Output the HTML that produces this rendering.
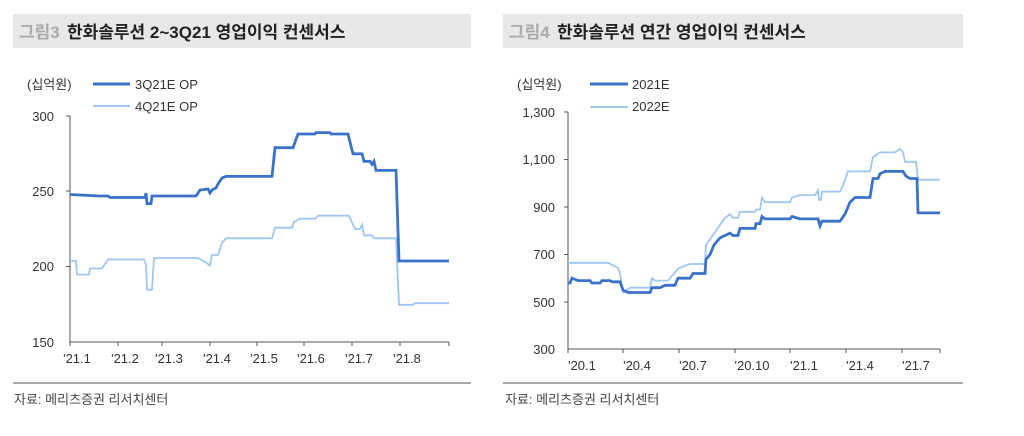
<!DOCTYPE html>
<html><head><meta charset="utf-8"><style>
body{margin:0;width:1024px;height:431px;background:#fff;overflow:hidden}
svg{font-family:"Liberation Sans","Noto Sans CJK KR",sans-serif}
</style></head><body>
<svg width="1024" height="431" viewBox="0 0 1024 431">
<rect x="13" y="14" width="458" height="34" fill="#e8e8e8"/>
<rect x="503" y="14" width="460" height="34" fill="#e8e8e8"/>
<text x="19" y="38" font-size="17" fill="#aaa" font-weight="bold">그림3</text>
<text x="67" y="38" font-size="17" fill="#222" font-weight="bold">한화솔루션 2~3Q21 영업이익 컨센서스</text>
<text x="509" y="38" font-size="17" fill="#aaa" font-weight="bold">그림4</text>
<text x="557" y="38" font-size="17" fill="#222" font-weight="bold">한화솔루션 연간 영업이익 컨센서스</text>

<g font-size="13" fill="#333">
<text x="27" y="89">(십억원)</text>
<text x="135" y="89">3Q21E OP</text>
<text x="135" y="111">4Q21E OP</text>
<text x="517" y="89">(십억원)</text>
<text x="632" y="89">2021E</text>
<text x="632" y="111">2022E</text>
</g>
<line x1="93" y1="84" x2="130" y2="84" stroke="#3a72c8" stroke-width="3"/>
<line x1="93" y1="106" x2="130" y2="106" stroke="#9ec7f2" stroke-width="2"/>
<line x1="590" y1="84" x2="628" y2="84" stroke="#3a72c8" stroke-width="3"/>
<line x1="590" y1="107" x2="628" y2="107" stroke="#9ec7f2" stroke-width="2"/>

<!-- left axes -->
<g stroke="#555" stroke-width="1">
<line x1="70" y1="116" x2="70" y2="342"/>
<line x1="70" y1="342" x2="449" y2="342"/>
<line x1="66" y1="116" x2="70" y2="116"/><line x1="66" y1="191" x2="70" y2="191"/><line x1="66" y1="266.5" x2="70" y2="266.5"/>
<line x1="70" y1="342" x2="70" y2="346"/><line x1="118" y1="342" x2="118" y2="346"/><line x1="162" y1="342" x2="162" y2="346"/><line x1="210" y1="342" x2="210" y2="346"/><line x1="257" y1="342" x2="257" y2="346"/><line x1="304" y1="342" x2="304" y2="346"/><line x1="352" y1="342" x2="352" y2="346"/><line x1="400" y1="342" x2="400" y2="346"/><line x1="449" y1="342" x2="449" y2="346"/>
</g>
<g font-size="13" fill="#333" text-anchor="end">
<text x="54" y="121">300</text><text x="54" y="196">250</text><text x="54" y="271">200</text><text x="54" y="347">150</text>
</g>
<g font-size="13" fill="#333" text-anchor="middle">
<text x="77" y="363">'21.1</text><text x="125" y="363">'21.2</text><text x="169" y="363">'21.3</text><text x="217" y="363">'21.4</text><text x="264" y="363">'21.5</text><text x="311" y="363">'21.6</text><text x="359" y="363">'21.7</text><text x="407" y="363">'21.8</text>
</g>
<polyline fill="none" stroke="#9ec7f2" stroke-width="1.8" points="70,261 76,261 77,274.6 89,274.6 90,268.5 102,268.5 108,259.5 144,259.5 146,265 147,289.7 152,289.7 154,258 198,258 206,262.5 210,265.5 212,255 218,255 222,243 226,238.3 272,238.3 275,227.7 292,227.7 294,221.7 296,221 300,218.7 315,218.7 318,215.7 349,215.7 353,224.7 355,229 360,229 362,224.7 364,235.3 372,235.3 374,238.3 396,238.3 399,304.8 413,304.8 415,303.2 449,303.2"/>
<polyline fill="none" stroke="#3a72c8" stroke-width="2.8" points="70,194.5 100,196 108,196 110,197.5 145,197.5 146,193 147,203.6 151,203.6 152,196 196,196 200,190 208,189 210,193 212,190 216,188 218,184 222,178 226,176.4 272,176.4 275,147.7 293,147.7 298,134 315,134 316,132.6 330,132.6 331,134 348,134 351,146 353,153.8 362,153.8 364,161.3 370,161.3 372,164.3 374,161.3 376,170.4 396,170.4 399,261 449,261"/>

<!-- right axes -->
<g stroke="#555" stroke-width="1">
<line x1="568" y1="112" x2="568" y2="349"/>
<line x1="568" y1="349" x2="940" y2="349"/>
<line x1="564" y1="112" x2="568" y2="112"/><line x1="564" y1="159.5" x2="568" y2="159.5"/><line x1="564" y1="207" x2="568" y2="207"/><line x1="564" y1="254.5" x2="568" y2="254.5"/><line x1="564" y1="302" x2="568" y2="302"/>
<line x1="568" y1="349" x2="568" y2="353"/><line x1="623" y1="349" x2="623" y2="353"/><line x1="679" y1="349" x2="679" y2="353"/><line x1="735" y1="349" x2="735" y2="353"/><line x1="790" y1="349" x2="790" y2="353"/><line x1="846" y1="349" x2="846" y2="353"/><line x1="902" y1="349" x2="902" y2="353"/><line x1="940" y1="349" x2="940" y2="353"/>
</g>
<g font-size="13" fill="#333" text-anchor="end">
<text x="555" y="117">1,300</text><text x="555" y="164">1,100</text><text x="555" y="212">900</text><text x="555" y="259">700</text><text x="555" y="307">500</text><text x="555" y="354">300</text>
</g>
<g font-size="13" fill="#333" text-anchor="middle">
<text x="582" y="370">'20.1</text><text x="637" y="370">'20.4</text><text x="693" y="370">'20.7</text><text x="752" y="370">'20.10</text><text x="804" y="370">'21.1</text><text x="860" y="370">'21.4</text><text x="916" y="370">'21.7</text>
</g>
<polyline fill="none" stroke="#9ec7f2" stroke-width="1.8" points="568,262.8 605,262.8 608,262.8 618,268 620,273.5 623,292.5 630,287.7 650,287.7 652,278.2 655,280.6 668,280.6 672,275.8 678,268.8 684,266 690,264 705,264 706,245 716,230.8 724,218.9 730,214.1 733,217.7 738,217.7 740,211.8 755,211.8 756,209.5 760,209.5 762,197.5 765,202.2 790,202.2 792,197.5 800,195.1 815,195.1 818,190.4 819,199.9 821,199.9 822,191.6 840,191.6 843,185.6 848,171.4 870,171.4 873,157.2 880,152.4 895,152.4 900,148.8 903,152 905,161.8 916,161.8 918,179.7 940,179.7"/>
<polyline fill="none" stroke="#3a72c8" stroke-width="2.8" points="568,283 570,283 572,278.2 578,280.6 590,280.6 592,283 600,283 602,280.6 610,280.6 612,281.8 620,281.8 623,290 628,292.5 650,292.5 652,287.7 660,287.7 665,285.3 675,285.3 678,278.2 690,278.2 693,273.5 705,273.5 706,259.3 710,254.5 714,245 720,237.9 730,233.1 733,235.5 738,235.5 740,228.4 755,228.4 756,223.6 760,223.6 762,216.5 765,218.9 790,218.9 792,216.5 800,218.9 818,218.9 820,226 822,221.2 840,221.2 845,214.1 850,202.2 855,197.5 870,197.5 873,178.5 878,178.5 880,173.8 885,171.4 903,171.4 906,176.1 910,178.5 917,178.5 918,212.9 940,212.9"/>

<line x1="13" y1="383" x2="471" y2="383" stroke="#555" stroke-width="1"/>
<line x1="503" y1="383" x2="963" y2="383" stroke="#555" stroke-width="1"/>
<text x="14" y="404" font-size="13" fill="#444">자료: 메리츠증권 리서치센터</text>
<text x="505" y="404" font-size="13" fill="#444">자료: 메리츠증권 리서치센터</text>
</svg>
</body></html>
